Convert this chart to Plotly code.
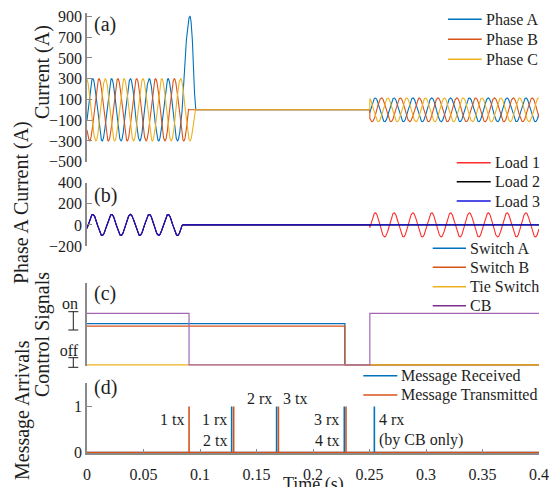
import numpy as np
import plotly.graph_objects as go

# ------------------------------------------------------------------
# Data
# ------------------------------------------------------------------
freq_hz = 60.0                      # system frequency
phase_a_angle0 = -0.34              # phase-A angle at t = 0 (rad)
phase_names = ["Phase A", "Phase B", "Phase C"]
phase_shifts = [0.0, -2 * np.pi / 3, 2 * np.pi / 3]
phase_amp_before = [300, 300, 300]  # A, source current before fault
phase_amp_after = [115, 115, 115]   # A, after restoration
phase_stop_t = [0.0843, 0.0899, 0.0954]   # s, where each phase ceases
fault_peak_a = 900                  # A, fault spike on phase A
fault_peak_t = 0.0911               # s
fault_end_t = 0.0957                # s
restore_t = 0.2503                  # s

load_names = ["Load 1", "Load 2", "Load 3"]
load_amp_before = [100, 100, 100]
load_amp_after = [115, 0, 0]
load_stop_t = 0.0843

switch_names = ["Switch A", "Switch B", "Tie Switch", "CB"]
switch_times = [
    [0.0, 0.2282, 0.4],
    [0.0, 0.2282, 0.4],
    [0.0, 0.4],
    [0.0, 0.0903, 0.2503, 0.4],
]
switch_levels = [
    [0.8, 0.0, 0.0],
    [0.75, 0.0, 0.0],
    [0.0, 0.0],
    [1.0, 0.0, 1.0, 1.0],
]

msg_names = ["Message Received", "Message Transmitted"]
msg_rx_times = [0.1280, 0.1678, 0.2277, 0.2543]
msg_tx_times = [0.0903, 0.1298, 0.1694, 0.2292]

x_tickvals = [0, 0.05, 0.1, 0.15, 0.2, 0.25, 0.3, 0.35, 0.4]
x_ticktext = ["0", "0.05", "0.1", "0.15", "0.2", "0.25", "0.3", "0.35", "0.4"]
ya_ticks = [-500, -300, -100, 100, 300, 500, 700, 900]
yb_ticks = [-200, 0, 200, 400]
yc_tickvals = [1.2, 0.29]
yc_ticktext = ["on", "off"]
yd_ticks = [0, 1]

msg_notes = [  # (time, level, text, side)
    (0.0903, 0.71, "1 tx", "left"),
    (0.1280, 0.71, "1 rx", "left"),
    (0.1280, 0.27, "2 tx", "left"),
    (0.1678, 1.16, "2 rx", "left"),
    (0.1694, 1.16, "3 tx", "right"),
    (0.2277, 0.71, "3 rx", "left"),
    (0.2277, 0.27, "4 tx", "left"),
    (0.2543, 0.71, "4 rx", "right"),
    (0.2543, 0.27, "(by CB only)", "right"),
]

# ------------------------------------------------------------------
# Build waveforms from the read parameters
# ------------------------------------------------------------------
dt = 5e-5
t = np.arange(0, 0.4 + dt / 2, dt)
theta = 2 * np.pi * freq_hz * t + phase_a_angle0

phase_curves = []
for i in range(3):
    y = np.where(t < phase_stop_t[i],
                 phase_amp_before[i] * np.sin(theta + phase_shifts[i]), 0.0)
    if i == 0:
        rise = (t >= phase_stop_t[0]) & (t < fault_peak_t)
        fall = (t >= fault_peak_t) & (t <= fault_end_t)
        y = np.where(rise, fault_peak_a * np.sin(0.5 * np.pi * (t - phase_stop_t[0]) /
                                                 (fault_peak_t - phase_stop_t[0])), y)
        y = np.where(fall, fault_peak_a * np.cos(0.5 * np.pi * (t - fault_peak_t) /
                                                 (fault_end_t - fault_peak_t)), y)
    y = np.where(t >= restore_t, phase_amp_after[i] * np.sin(theta + phase_shifts[i]), y)
    phase_curves.append(y)

load_curves = []
for i in range(3):
    y = np.where(t < load_stop_t, load_amp_before[i] * np.sin(theta), 0.0)
    y = np.where(t >= restore_t, load_amp_after[i] * np.sin(theta), y)
    load_curves.append(y)


def spikes(times):
    xs, ys = [0.0], [0.0]
    for tt in times:
        xs += [tt, tt, tt]
        ys += [0.0, 1.0, 0.0]
    xs.append(0.4)
    ys.append(0.0)
    return xs, ys


# ------------------------------------------------------------------
# Figure
# ------------------------------------------------------------------
FONT = "Liberation Serif"
TXT = "#1e1e1e"
phase_colors = ["#0072BD", "#D95319", "#EDB120"]
load_colors = ["#FF2A2A", "#000000", "#1515E0"]
switch_colors = ["#0072BD", "#D95319", "#EDB120", "#A466B4"]
switch_key_colors = ["#0072BD", "#D95319", "#EDB120", "#7E2F8E"]
msg_colors = ["#0072BD", "#D95319"]

fig = go.Figure()
for i in range(3):
    fig.add_trace(go.Scatter(x=t, y=phase_curves[i], mode="lines", name=phase_names[i],
                             line=dict(color=phase_colors[i], width=1.1),
                             xaxis="x", yaxis="y"))
for i in range(3):
    fig.add_trace(go.Scatter(x=t, y=load_curves[i], mode="lines", name=load_names[i],
                             line=dict(color=load_colors[i], width=1.1),
                             xaxis="x2", yaxis="y2"))
for i in range(4):
    fig.add_trace(go.Scatter(x=switch_times[i], y=switch_levels[i], mode="lines",
                             name=switch_names[i], line_shape="hv",
                             line=dict(color=switch_colors[i], width=1.2),
                             xaxis="x3", yaxis="y3"))
rx_x, rx_y = spikes(msg_rx_times)
tx_x, tx_y = spikes(msg_tx_times)
fig.add_trace(go.Scatter(x=rx_x, y=rx_y, mode="lines", name=msg_names[0],
                         line=dict(color=msg_colors[0], width=1.6),
                         xaxis="x4", yaxis="y4"))
fig.add_trace(go.Scatter(x=tx_x, y=tx_y, mode="lines", name=msg_names[1],
                         line=dict(color=msg_colors[1], width=1.6),
                         xaxis="x4", yaxis="y4"))

H = 453.0  # plot-area height in px


def pdom(top_px, bot_px):
    return [(H - bot_px) / H, (H - top_px) / H]


def py(px):
    return (H - px) / H


def px_x(px):
    return (px - 87) / 452.0


axis_common = dict(showline=True, linecolor="#8a8a8a", linewidth=1.5, ticks="inside",
                   ticklen=5, tickcolor="#8a8a8a", showgrid=False, zeroline=False,
                   automargin=False,
                   tickfont=dict(family=FONT, size=16, color=TXT))
hidden_x = dict(visible=False, range=[0, 0.4], showgrid=False, zeroline=False,
                automargin=False)

fig.update_layout(
    width=554, height=487,
    margin=dict(l=87, r=15, t=0, b=34, pad=0, autoexpand=False),
    paper_bgcolor="white", plot_bgcolor="white",
    font=dict(family=FONT, size=16, color=TXT),
    showlegend=False,
    xaxis=dict(hidden_x, anchor="y"),
    xaxis2=dict(hidden_x, anchor="y2"),
    xaxis3=dict(hidden_x, anchor="y3"),
    xaxis4=dict(axis_common, range=[0, 0.4], anchor="y4", tickvals=x_tickvals,
                ticktext=x_ticktext, ticklen=4, ticklabelstandoff=6),
    yaxis=dict(axis_common, domain=pdom(13.3, 161.7), range=[-500, 930],
               tickvals=ya_ticks, anchor="x"),
    yaxis2=dict(axis_common, domain=pdom(182.7, 246), range=[-200, 400],
                tickvals=yb_ticks, anchor="x2"),
    yaxis3=dict(axis_common, domain=pdom(283, 366), range=[-0.02, 1.586],
                tickvals=yc_tickvals, ticktext=yc_ticktext, ticks="", anchor="x3",
                ticklabelstandoff=4),
    yaxis4=dict(axis_common, domain=pdom(383.3, 453), range=[-0.01, 1.5],
                tickvals=yd_ticks, anchor="x4"),
)

annotations = []
shapes = []

# panel letters
for lab, ypx in [("(a)", 25), ("(b)", 195), ("(c)", 293), ("(d)", 388)]:
    annotations.append(dict(text=lab, xref="paper", yref="paper", x=px_x(92), y=py(ypx),
                            xanchor="left", yanchor="middle", showarrow=False,
                            font=dict(family=FONT, size=20, color=TXT)))
# y-axis titles
for lab, xpx, ypx in [("Current (A)", 42, 72), ("Phase A Current (A)", 22, 203),
                      ("Control Signals", 42, 335), ("Message Arrivals", 22, 410)]:
    annotations.append(dict(text=lab, xref="paper", yref="paper", x=px_x(xpx), y=py(ypx),
                            xanchor="center", yanchor="middle", textangle=-90,
                            showarrow=False, font=dict(family=FONT, size=20, color=TXT)))
# message notes
for tt, lv, txt, side in msg_notes:
    annotations.append(dict(text=txt, xref="x4", yref="y4", x=tt, y=lv,
                            xanchor="right" if side == "left" else "left",
                            xshift=-3 if side == "left" else 3, yanchor="middle",
                            showarrow=False, font=dict(family=FONT, size=16, color=TXT)))
annotations.append(dict(text="Time (s)", xref="paper", yref="paper", x=0.5, y=py(485),
                        xanchor="center", yanchor="middle", showarrow=False,
                        font=dict(family=FONT, size=18, color=TXT)))

# legends (drawn as key lines + text to match the compact spacing)
legend_specs = [
    (phase_names, phase_colors, 448, 481.7, [19.3, 39.3, 59.3]),
    (load_names, load_colors, 456.7, 490.7, [162.7, 181.7, 201.0]),
    (switch_names, switch_key_colors, 432.7, 466.0, [248.3, 267.3, 286.7, 305.7]),
    (msg_names, msg_colors, 363.3, 397.3, [375.7, 395.0]),
]
for names, cols, lx0, lx1, rows in legend_specs:
    for nm, col, ypx in zip(names, cols, rows):
        shapes.append(dict(type="line", xref="paper", yref="paper",
                           x0=px_x(lx0), x1=px_x(lx1), y0=py(ypx), y1=py(ypx),
                           line=dict(color=col, width=1.5)))
        annotations.append(dict(text=nm, xref="paper", yref="paper", x=px_x(lx1 + 2),
                                y=py(ypx), xanchor="left", yanchor="middle",
                                showarrow=False,
                                font=dict(family=FONT, size=16, color=TXT)))

# I-bar markers next to the on/off labels
for top_px, bot_px in [(311.7, 330.0), (357.7, 367.3)]:
    xc, x0, x1 = px_x(73.3), px_x(68.3), px_x(78.3)
    shapes.append(dict(type="line", xref="paper", yref="paper", x0=xc, x1=xc,
                       y0=py(top_px), y1=py(bot_px), line=dict(color=TXT, width=1)))
    for ypx in (top_px, bot_px):
        shapes.append(dict(type="line", xref="paper", yref="paper", x0=x0, x1=x1,
                           y0=py(ypx), y1=py(ypx), line=dict(color=TXT, width=1)))

fig.update_layout(annotations=annotations, shapes=shapes)

fig.write_html("out.html", config={"displayModeBar": False},
               post_script="document.body.style.margin='0';")
